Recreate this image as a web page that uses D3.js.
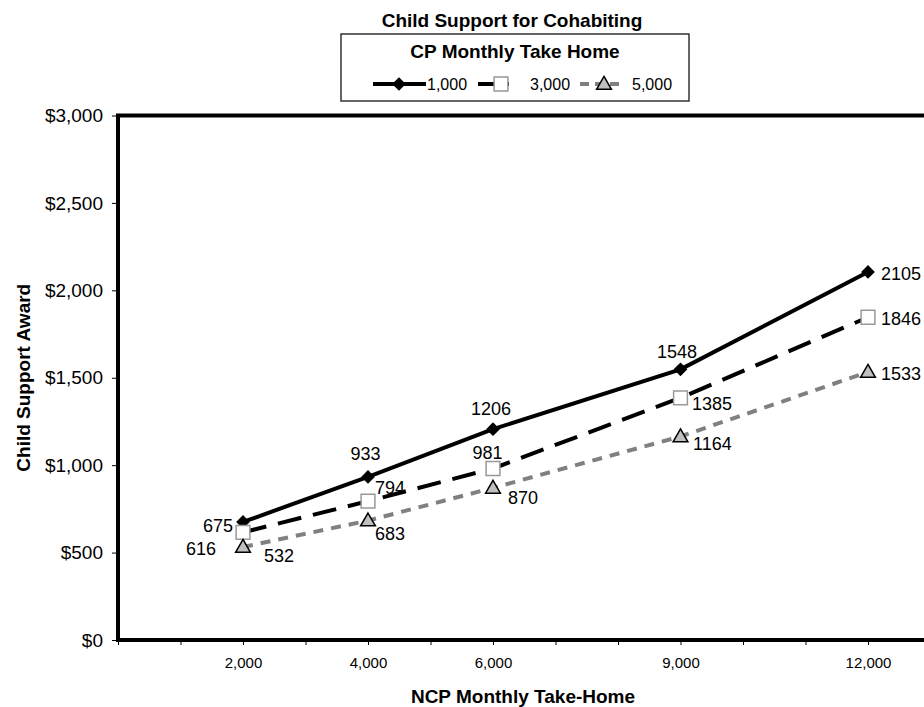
<!DOCTYPE html>
<html>
<head>
<meta charset="utf-8">
<script src="https://cdn.jsdelivr.net/npm/d3@7"></script>
<style>
  html, body { margin: 0; padding: 0; background: #fff; }
  svg { display: block; font-family: "Liberation Sans", Arial, Helvetica, sans-serif; }
</style>
</head>
<body>
<svg id="chart" width="924" height="707"></svg>
<script>
// ---- data ----
const categories = [2000, 4000, 6000, 9000, 12000];
const seriesNames = ["1,000", "3,000", "5,000"];
const cp1000 = [675, 933, 1206, 1548, 2105];
const cp3000 = [616, 794, 981, 1385, 1846];
const cp5000 = [532, 683, 870, 1164, 1533];
const yTickValues = [0, 500, 1000, 1500, 2000, 2500, 3000];
const xTickLabels = [2000, 4000, 6000, 9000, 12000];
const xMinorTicks = [0, 1000, 2000, 3000, 4000, 5000, 6000, 7000, 8000, 9000, 10000, 11000, 12000];

// ---- layout / style (not data) ----
const labelPlacement = [
  [[-10, 9.6, "end"], [-2.5, -17, "middle"], [-2, -14.5, "middle"], [-3.5, -11.6, "middle"], [13, 8, "start"]],
  [[-27, 22.3, "end"], [7, -7.5, "start"], [-5.5, -9.8, "middle"], [11.5, 12, "start"], [13, 7.5, "start"]],
  [[21, 14.6, "start"], [7, 19, "start"], [15, 15.7, "start"], [12.5, 13.2, "start"], [13, 7.8, "start"]]
];
const styles = [
  { stroke: "#000", dash: null, legendDash: null, marker: "diamond" },
  { stroke: "#000", dash: "24,12", legendDash: null, marker: "square" },
  { stroke: "#808080", dash: "10,8", legendDash: "9,6", marker: "triangle" }
];

const svg = d3.select("#chart");
const x = d3.scaleLinear().domain([0, 13000]).range([118, 930.5]);
const y = d3.scaleLinear().domain([0, 3000]).range([640, 115.5]);

// Title
svg.append("text").attr("x", 512).attr("y", 27).attr("text-anchor", "middle")
  .attr("font-size", 19).attr("font-weight", "bold").text("Child Support for Cohabiting");

// Axes
const yAxis = d3.axisLeft(y).tickValues(yTickValues)
  .tickFormat(d => "$" + d3.format(",")(d)).tickSize(6).tickPadding(9);
const gy = svg.append("g").attr("transform", `translate(${x(0)},0)`).call(yAxis);
gy.select(".domain").remove();
gy.selectAll("text").attr("font-size", 19).attr("font-family", null).attr("fill", "#000");
gy.selectAll("line").attr("stroke", "#000");

const xAxis = d3.axisBottom(x).tickValues(xMinorTicks)
  .tickFormat(d => xTickLabels.includes(d) ? d3.format(",")(d) : "")
  .tickSize(5).tickPadding(12);
const gx = svg.append("g").attr("transform", `translate(0,${y(0)})`).call(xAxis);
gx.select(".domain").remove();
gx.selectAll("text").attr("font-size", 15).attr("font-family", null).attr("fill", "#000");
gx.selectAll("line").attr("stroke", "#000");

// Plot frame
svg.append("rect").attr("x", x(0)).attr("y", y(3000))
  .attr("width", x(13000) - x(0)).attr("height", y(0) - y(3000))
  .attr("fill", "none").attr("stroke", "#000").attr("stroke-width", 4);

// Axis titles
svg.append("text").attr("transform", `translate(30,${(y(0) + y(3000)) / 2}) rotate(-90)`)
  .attr("text-anchor", "middle").attr("font-size", 19).attr("font-weight", "bold")
  .text("Child Support Award");
svg.append("text").attr("x", 523).attr("y", 703).attr("text-anchor", "middle")
  .attr("font-size", 19).attr("font-weight", "bold").text("NCP Monthly Take-Home");

// Markers
function drawMarker(g, type, cx, cy) {
  if (type === "diamond") {
    g.append("path").attr("d", d3.symbol(d3.symbolSquare, 76)())
      .attr("transform", `translate(${cx},${cy}) rotate(45)`)
      .attr("fill", "#000").attr("stroke", "#000").attr("stroke-width", 1);
  } else if (type === "square") {
    g.append("path").attr("d", d3.symbol(d3.symbolSquare, 190)())
      .attr("transform", `translate(${cx},${cy})`)
      .attr("fill", "#fff").attr("stroke", "#999").attr("stroke-width", 1.5);
  } else {
    g.append("path").attr("d", d3.symbol(d3.symbolTriangle, 95)())
      .attr("transform", `translate(${cx},${cy + 1})`)
      .attr("fill", "#c0c0c0").attr("stroke", "#000").attr("stroke-width", 1.5);
  }
}

const allSeries = [cp1000, cp3000, cp5000];
const line = d3.line().x((d, i) => x(categories[i])).y(d => y(d));
const plot = svg.append("g");
allSeries.forEach((vals, s) => {
  const st = styles[s];
  const p = plot.append("path").datum(vals).attr("d", line)
    .attr("fill", "none").attr("stroke", st.stroke).attr("stroke-width", 4);
  if (st.dash) p.attr("stroke-dasharray", st.dash);
  vals.forEach((v, i) => drawMarker(plot, st.marker, x(categories[i]), y(v)));
});

// Data labels
allSeries.forEach((vals, s) => {
  vals.forEach((v, i) => {
    const [dx, dy, anchor] = labelPlacement[s][i];
    svg.append("text").attr("x", x(categories[i]) + dx).attr("y", y(v) + dy)
      .attr("text-anchor", anchor).attr("font-size", 18).attr("fill", "#000").text(v);
  });
});

// Legend
const lg = svg.append("g");
lg.append("rect").attr("x", 341).attr("y", 34).attr("width", 348).attr("height", 67)
  .attr("fill", "#fff").attr("stroke", "#333").attr("stroke-width", 1.5);
lg.append("text").attr("x", 515).attr("y", 58).attr("text-anchor", "middle")
  .attr("font-size", 19).attr("font-weight", "bold").text("CP Monthly Take Home");
const legendItems = [
  { x1: 373, x2: 426, mx: 399, tx: 427 },
  { x1: 478, x2: 509, mx: 501, tx: 530 },
  { x1: 580, x2: 619, mx: 604, tx: 632 }
];
legendItems.forEach((it, s) => {
  const st = styles[s];
  const l = lg.append("line").attr("x1", it.x1).attr("x2", it.x2).attr("y1", 84).attr("y2", 84)
    .attr("stroke", st.stroke).attr("stroke-width", 4);
  if (st.legendDash) l.attr("stroke-dasharray", st.legendDash);
  drawMarker(lg, st.marker, it.mx, 84);
  lg.append("text").attr("x", it.tx).attr("y", 90).attr("font-size", 16).text(seriesNames[s]);
});
</script>
</body>
</html>
